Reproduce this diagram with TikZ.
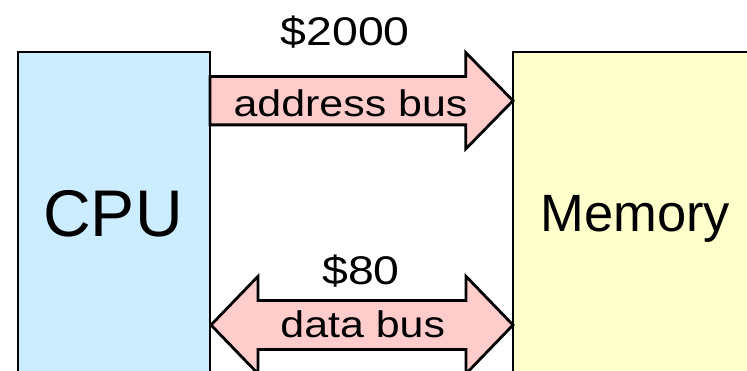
\documentclass[tikz,border=0pt]{standalone}
\usepackage{fontspec}
\setmainfont{Liberation Sans}
\newfontfamily\widefont[FakeStretch=1.16]{Liberation Sans}
\definecolor{cpublue}{HTML}{CCECFF}
\definecolor{memyellow}{HTML}{FFFFCC}
\definecolor{buspink}{HTML}{FFCCCC}
\begin{document}
\begin{tikzpicture}[x=1pt,y=-1pt,
  box/.style={draw=black,line width=2.8pt},
  busarrow/.style={draw=black,fill=buspink,line width=2.8pt,line join=miter},
  lbl/.style={inner sep=0pt,anchor=base,text=black},
  buslbl/.style={lbl,font=\widefont\fontsize{37}{40}\selectfont},
  vallbl/.style={lbl,font=\widefont\fontsize{40}{44}\selectfont}]
\useasboundingbox (0,0) rectangle (747,371);
\clip (0,0) rectangle (747,371);
% boxes
\draw[box,fill=cpublue] (18,52) rectangle (210,420);
\draw[box,fill=memyellow] (513,52) rectangle (780,420);
\node[lbl,font=\fontsize{66}{70}\selectfont] (cpu) at (113,236.7) {CPU};
\node[lbl,font=\fontsize{52.5}{56}\selectfont] (mem) at (635.3,231.7) {Memory};
% address bus
\draw[busarrow] (210,76.5) -- (465.7,76.5) -- (465.7,52.5) -- (513,100.7)
  -- (465.7,149) -- (465.7,124.9) -- (210,124.9) -- cycle;
\node[buslbl] (addr) at (350.5,116.7) {address bus};
\node[vallbl] (aval) at (345.3,45.7) {\$2000};
% data bus
\draw[busarrow] (211,325) -- (258,276.3) -- (258,300.5) -- (466,300.5)
  -- (466,276.3) -- (513,325) -- (466,373.7) -- (466,349.5)
  -- (258,349.5) -- (258,373.7) -- cycle;
\node[buslbl] (data) at (362.8,337.3) {data bus};
\node[vallbl] (dval) at (361,285) {\$80};
\end{tikzpicture}
\end{document}
